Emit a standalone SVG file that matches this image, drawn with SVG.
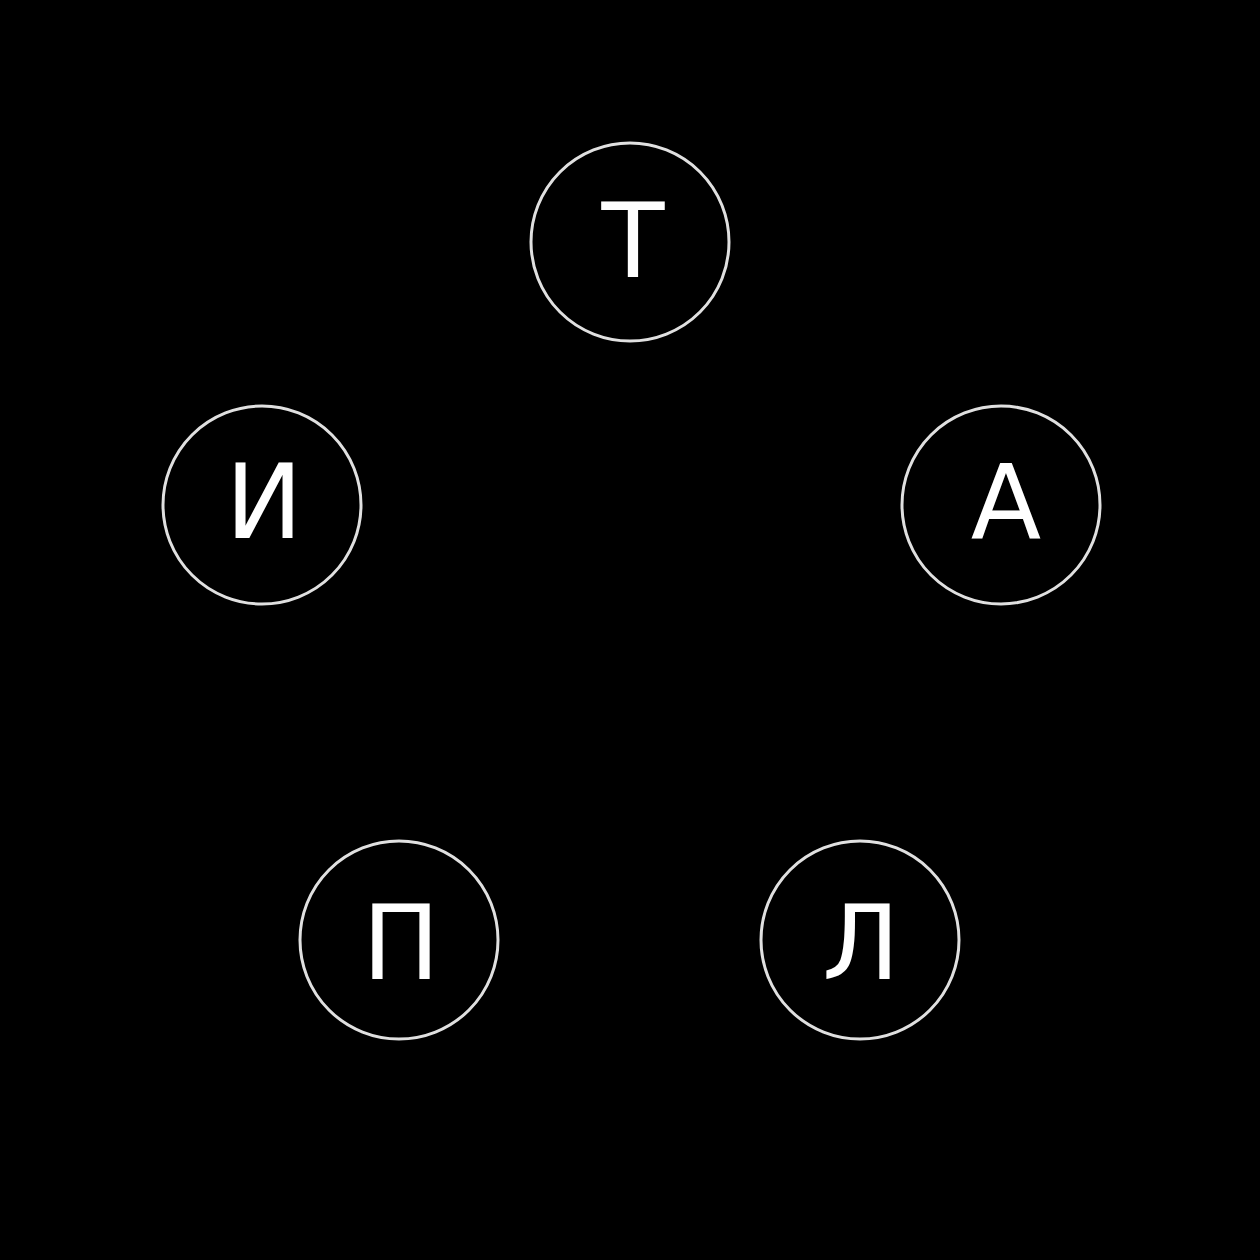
<svg xmlns="http://www.w3.org/2000/svg" width="1260" height="1260" viewBox="0 0 1260 1260">
<style>
.node circle{fill:#000;stroke:#e0e0e0;stroke-width:3}
.node text{fill:#fff;font-family:"DejaVu Sans",sans-serif;font-size:103px;text-anchor:middle}
</style>
<rect width="1260" height="1260" fill="#000"/>
<g id="connectors"></g>
<g id="node-T" class="node"><circle cx="630" cy="242" r="99"/><text x="633" y="277">Т</text></g>
<g id="node-A" class="node"><circle cx="1001" cy="505" r="99"/><text x="1006" y="538">А</text></g>
<g id="node-I" class="node"><circle cx="262" cy="505" r="99"/><text x="264" y="538">И</text></g>
<g id="node-P" class="node"><circle cx="399" cy="940" r="99"/><text x="401" y="979">П</text></g>
<g id="node-L" class="node"><circle cx="860" cy="940" r="99"/><text x="861" y="979">Л</text></g>
</svg>
